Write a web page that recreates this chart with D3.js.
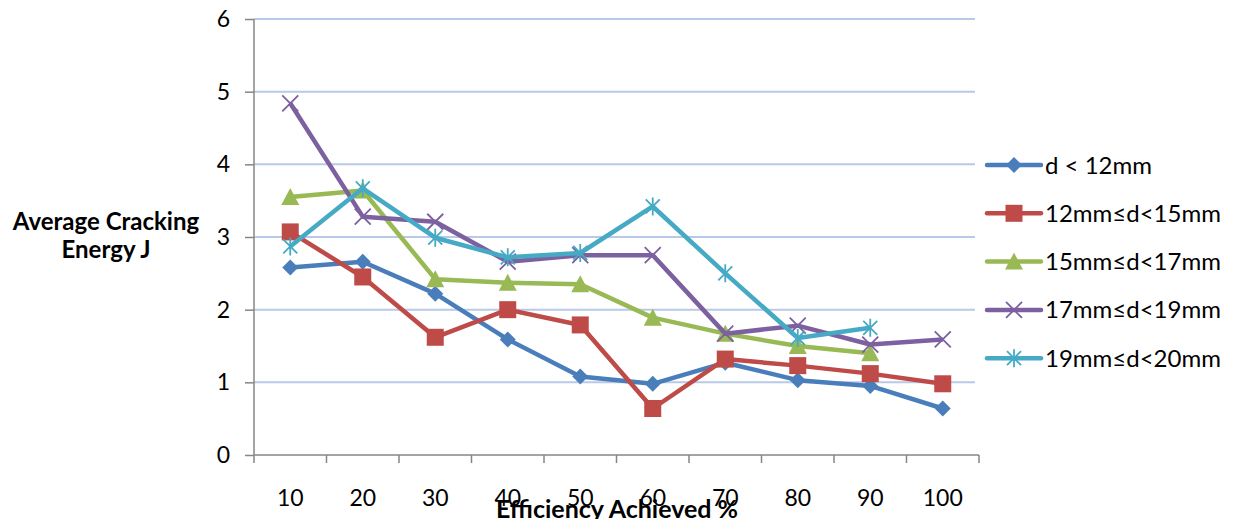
<!DOCTYPE html>
<html><head><meta charset="utf-8">
<script src="https://cdn.jsdelivr.net/npm/d3@7"></script>
<style>body{margin:0;background:#fff}svg{display:block}text{font-family:Lato,"Open Sans",sans-serif}</style>
</head><body><svg id="c" width="1233" height="519"></svg>
<script>
const categories = ["10","20","30","40","50","60","70","80","90","100"];
const yTicks = [0,1,2,3,4,5,6];
const seriesNames = ["d < 12mm","12mm≤d<15mm","15mm≤d<17mm","17mm≤d<19mm","19mm≤d<20mm"];
const sD12   = [2.58,2.66,2.22,1.59,1.08,0.98,1.27,1.03,0.95,0.64];
const sD1215 = [3.07,2.45,1.62,2.00,1.79,0.64,1.32,1.23,1.12,0.98];
const sD1517 = [3.55,3.64,2.42,2.37,2.35,1.89,1.67,1.50,1.40,null];
const sD1719 = [4.84,3.28,3.21,2.66,2.75,2.75,1.67,1.78,1.52,1.59];
const sD1920 = [2.87,3.67,2.99,2.72,2.78,3.42,2.50,1.61,1.75,null];
const seriesValues = [sD12,sD1215,sD1517,sD1719,sD1920];
const colors = ["#4A7EBB","#BE4B48","#98B954","#7D60A0","#46AAC5"];
const markers = ["diamond","square","triangle","x","star"];

const svg = d3.select("#c");
const L=254, R=979, T=19, B=455;
const x = d3.scaleBand().domain(categories).range([L,R]).padding(0);
const y = d3.scaleLinear().domain([0,6]).range([B,T]);
const cx = c => x(c)+x.bandwidth()/2;

// gridlines
svg.append("g").selectAll("line").data(yTicks.filter(d=>d>0)).join("line")
  .attr("x1",L).attr("x2",R-4).attr("y1",d=>y(d)).attr("y2",d=>y(d))
  .attr("stroke","#B9C9E8").attr("stroke-width",2);

// y axis
const ya = svg.append("g").attr("transform",`translate(${L},0)`)
  .call(d3.axisLeft(y).tickValues(yTicks).tickSize(9).tickPadding(15).tickFormat(d3.format("d")));
ya.select(".domain").attr("stroke","#868686").attr("stroke-width",1.5).attr("d",`M0,${T}V${B}`);
ya.selectAll(".tick line").attr("stroke","#868686").attr("stroke-width",1.5);
ya.selectAll(".tick text").attr("font-size",23).attr("fill","#000").attr("font-family","Lato");

// x axis
const xa = svg.append("g").attr("transform",`translate(0,${B})`);
xa.append("line").attr("x1",L).attr("x2",R).attr("y1",0).attr("y2",0).attr("stroke","#868686").attr("stroke-width",1.5);
const bounds = categories.map(c=>x(c)).concat([R]);
xa.selectAll("line.t").data(bounds).join("line").attr("class","t")
  .attr("x1",d=>d).attr("x2",d=>d).attr("y1",0).attr("y2",8).attr("stroke","#868686").attr("stroke-width",1.5);
xa.selectAll("text").data(categories).join("text")
  .attr("x",d=>cx(d)).attr("y",51).attr("text-anchor","middle").attr("font-size",23).text(d=>d);

// titles
svg.append("text").attr("x",617).attr("y",518).attr("text-anchor","middle")
  .attr("font-size",25).attr("font-weight","bold").text("Efficiency Achieved %");
const yt = svg.append("text").attr("text-anchor","middle").attr("font-size",24).attr("font-weight","bold");
yt.append("tspan").attr("x",106).attr("y",230).text("Average Cracking");
yt.append("tspan").attr("x",106).attr("y",258).text("Energy J");

function marker(g, type, color){
  if(type==="diamond") g.append("path").attr("d","M0,-8L8,0L0,8L-8,0Z").attr("fill",color);
  else if(type==="square") g.append("rect").attr("x",-8.5).attr("y",-8.5).attr("width",17).attr("height",17).attr("fill",color);
  else if(type==="triangle") g.append("path").attr("d","M0,-9L9,8L-9,8Z").attr("fill",color);
  else if(type==="x") g.append("path").attr("d","M-8,-8L8,8M8,-8L-8,8").attr("stroke",color).attr("stroke-width",1.8);
  else if(type==="star") g.append("path").attr("d","M-7,-7L7,7M7,-7L-7,7M0,-9V9").attr("stroke",color).attr("stroke-width",1.8);
}

const line = d3.line().defined(d=>d.v!=null).x(d=>cx(d.c)).y(d=>y(d.v));
seriesValues.forEach((vals,i)=>{
  const data = categories.map((c,j)=>({c,v:vals[j]}));
  svg.append("path").datum(data).attr("d",line).attr("fill","none")
    .attr("stroke",colors[i]).attr("stroke-width",4.5).attr("stroke-linejoin","round");
  data.filter(d=>d.v!=null).forEach(d=>{
    const g = svg.append("g").attr("transform",`translate(${cx(d.c)},${y(d.v)})`);
    marker(g, markers[i], colors[i]);
  });
});

// legend
const lg = svg.append("g");
seriesNames.forEach((n,i)=>{
  const yy = 165 + i*48.3;
  lg.append("line").attr("x1",987).attr("x2",1041).attr("y1",yy).attr("y2",yy)
    .attr("stroke",colors[i]).attr("stroke-width",4.5).attr("stroke-linecap","round");
  marker(lg.append("g").attr("transform",`translate(1014,${yy})`), markers[i], colors[i]);
  lg.append("text").attr("x",1045).attr("y",yy+8.5).attr("font-size",24).text(n);
});
</script></body></html>
